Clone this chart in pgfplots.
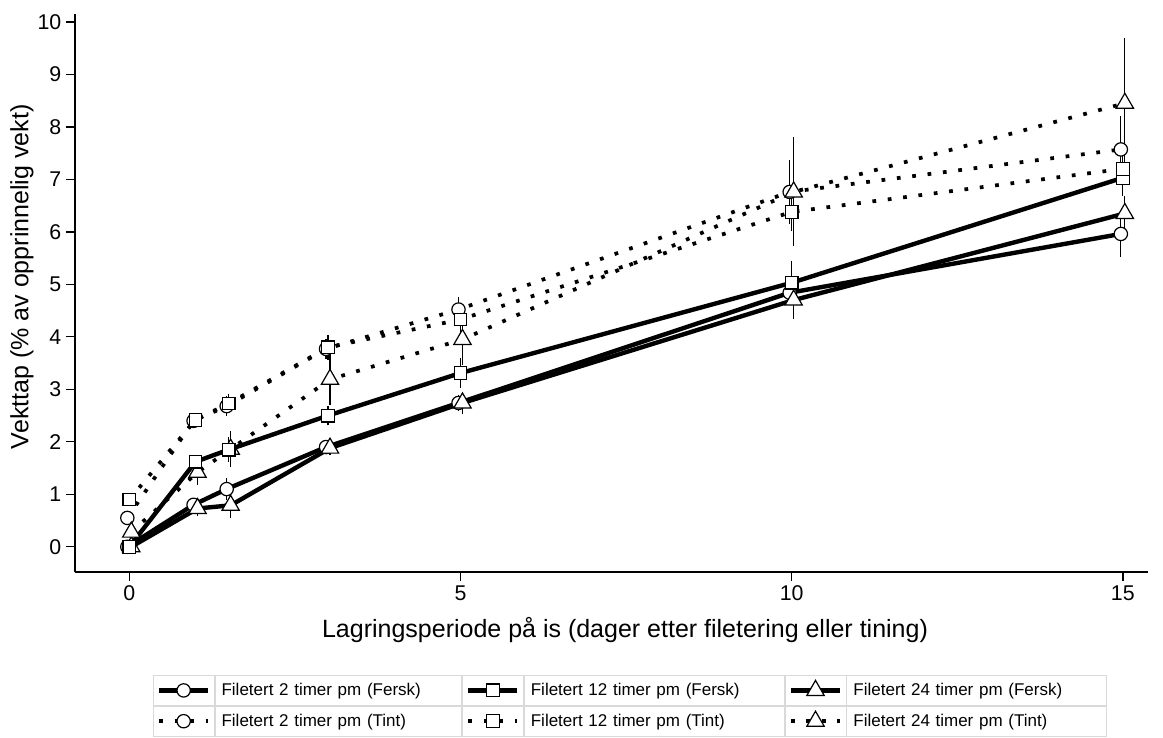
\documentclass[border=0pt]{standalone}
\usepackage{pgfplots}
\pgfplotsset{compat=1.18}
\usepackage{pgfplotstable}
\usepackage{fontspec}
\setmainfont{Liberation Sans}

% x, mean, error (half-width)
\pgfplotstableread{
x y e
-0.03 0.00 0.05
0.97 0.80 0.08
1.47 1.10 0.17
2.97 1.90 0.08
4.97 2.74 0.12
9.97 4.84 0.20
14.97 5.96 0.40
}\ftwo
\pgfplotstableread{
x y e
0 0.00 0.05
1 1.62 0.10
1.5 1.85 0.20
3 2.50 0.15
5 3.31 0.25
10 5.03 0.38
15 7.03 0.30
}\ftwelve
\pgfplotstableread{
x y e
0.03 0.00 0.05
1.03 0.73 0.10
1.53 0.79 0.20
3.03 1.88 0.10
5.03 2.74 0.18
10.03 4.70 0.32
15.03 6.35 0.30
}\ftwentyfour
\pgfplotstableread{
x y e
-0.03 0.55 0.10
0.97 2.40 0.10
1.47 2.68 0.15
2.97 3.77 0.15
4.97 4.52 0.20
9.97 6.76 0.57
14.97 7.57 0.59
}\ttwo
\pgfplotstableread{
x y e
0 0.90 0.05
1 2.42 0.08
1.5 2.73 0.15
3 3.80 0.20
5 4.33 0.25
10 6.38 0.33
15 7.20 0.30
}\ttwelve
\pgfplotstableread{
x y e
0.03 0.28 0.10
1.03 1.42 0.20
1.53 1.86 0.30
3.03 3.19 0.45
5.03 3.95 0.45
10.03 6.76 1.00
15.03 8.45 1.20
}\ttwentyfour

\pgfplotsset{
  fline/.style={black, line width=3.3pt, solid, line cap=butt},
  tline/.style={black, line width=2.8pt, dash pattern=on 2.8pt off 8.8pt, line cap=butt},
  mk/.style={mark options={solid, draw=black, fill=white, line width=0.9pt}},
  mcirc/.style={mark=*, mark size=5pt, mk},
  msq/.style={mark=square*, mark size=4.75pt, mk},
  mtri/.style={mark=triangle*, mark size=7.5pt, mk},
  ebar/.style={only marks, mark=none, black, forget plot,
    error bars/.cd, y dir=both, y explicit,
    error bar style={solid, black, line width=0.9pt},
    error mark options={solid, black, mark size=1.5pt, line width=0.9pt}},
}

\begin{document}
\begin{tikzpicture}
\useasboundingbox (-56.25pt,-124.5pt) rectangle (816pt,429pt);
\begin{axis}[
  at={(0,0)}, anchor=south west,
  scale only axis, width=804.75pt, height=418.5pt,
  xmin=-0.82, xmax=15.38, ymin=-0.48, ymax=10.15,
  axis x line*=bottom, axis y line*=left,
  axis line style={line width=1pt, -},
  xtick={0,5,10,15}, ytick={0,1,...,10},
  tick align=outside, major tick length=6.75pt,
  tick style={line width=1pt, black},
  tick label style={font=\fontsize{16}{19}\selectfont},
  /pgf/number format/assume math mode=true,
  xlabel={Lagringsperiode på is (dager etter filetering eller tining)},
  ylabel={Vekttap (\% av opprinnelig vekt)},
  label style={font=\fontsize{18.75}{22}\selectfont},
  xlabel style={at={(axis description cs:0.5126,-0.104)}, anchor=center},
  ylabel style={at={(axis description cs:-0.0494,0.529)}, anchor=center},
  legend columns=3,
  legend cell align=left,
  legend style={at={(axis description cs:0.5172,-0.1846)}, anchor=north,
    draw=none, fill=none, inner sep=0pt, outer sep=0pt,
    row sep=0pt, column sep=0pt,
    font=\fontsize{12.75}{15}\selectfont,
    nodes={draw=gray!30, line width=0.6pt, minimum height=22.5pt,
      inner xsep=5pt, inner ysep=0pt, align=left, anchor=west, text width=185pt}},
  legend image code/.code={
    \draw[solid, draw=gray!30, line width=0.6pt, fill=none] (0pt,-11.25pt) rectangle (45.75pt,11.25pt);
    \draw[mark repeat=2, mark phase=2, #1] plot coordinates {(4.5pt,0pt) (22.9pt,0pt) (41.25pt,0pt)};
  },
]
% error bars
\addplot[ebar] table[x=x, y=y, y error=e] {\ftwo};
\addplot[ebar] table[x=x, y=y, y error=e] {\ftwelve};
\addplot[ebar] table[x=x, y=y, y error=e] {\ftwentyfour};
\addplot[ebar] table[x=x, y=y, y error=e] {\ttwo};
\addplot[ebar] table[x=x, y=y, y error=e] {\ttwelve};
\addplot[ebar] table[x=x, y=y, y error=e] {\ttwentyfour};
% lines
\addplot[fline, mark=none, forget plot] table[x=x, y=y] {\ftwo};
\addplot[fline, mark=none, forget plot] table[x=x, y=y] {\ftwelve};
\addplot[fline, mark=none, forget plot] table[x=x, y=y] {\ftwentyfour};
\addplot[tline, mark=none, forget plot] table[x=x, y=y] {\ttwo};
\addplot[tline, mark=none, forget plot] table[x=x, y=y] {\ttwelve};
\addplot[tline, mark=none, forget plot] table[x=x, y=y] {\ttwentyfour};
% markers
\addplot[only marks, mcirc, forget plot] table[x=x, y=y] {\ftwo};
\addplot[only marks, mcirc, forget plot] table[x=x, y=y] {\ttwo};
\addplot[only marks, mtri, forget plot] table[x=x, y=y] {\ftwentyfour};
\addplot[only marks, mtri, forget plot] table[x=x, y=y] {\ttwentyfour};
\addplot[only marks, msq, forget plot] table[x=x, y=y] {\ftwelve};
\addplot[only marks, msq, forget plot] table[x=x, y=y] {\ttwelve};
% legend
\addlegendimage{fline, mcirc}
\addlegendentry[text width=175pt]{Filetert 2 timer pm (Fersk)}
\addlegendimage{fline, msq}
\addlegendentry{Filetert 12 timer pm (Fersk)}
\addlegendimage{fline, mtri}
\addlegendentry{Filetert 24 timer pm (Fersk)}
\addlegendimage{tline, mcirc}
\addlegendentry[text width=175pt]{Filetert 2 timer pm (Tint)}
\addlegendimage{tline, msq}
\addlegendentry{Filetert 12 timer pm (Tint)}
\addlegendimage{tline, mtri}
\addlegendentry{Filetert 24 timer pm (Tint)}
\end{axis}
\end{tikzpicture}
\end{document}
